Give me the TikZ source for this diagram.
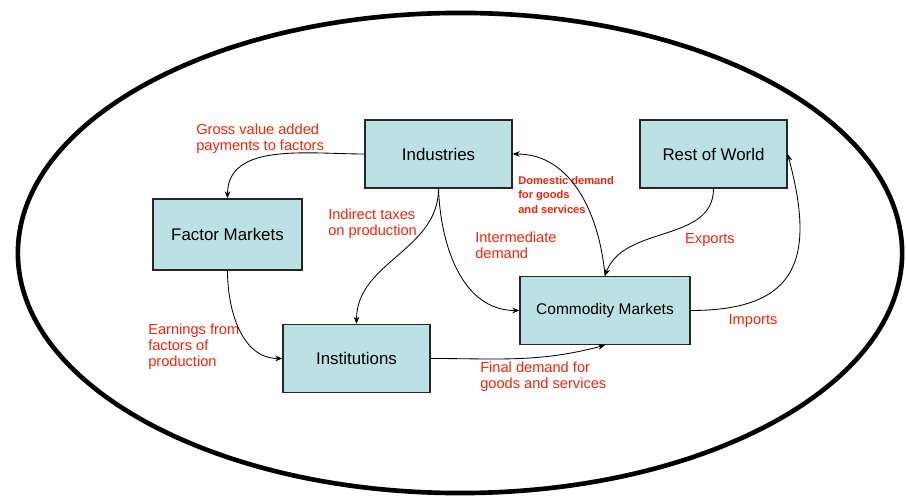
\documentclass[tikz,border=0pt]{standalone}
\usepackage{fontspec}
\setmainfont{Liberation Sans}
\usetikzlibrary{arrows.meta}

\definecolor{boxfill}{RGB}{188,225,228}
\definecolor{flowred}{RGB}{245,35,10}

\tikzset{
  sector/.style={draw=black!85, line width=0.9pt, fill=boxfill, minimum width=3.675cm, minimum height=1.7cm, font=\fontsize{12}{14}\selectfont},
  flow/.style={-{Stealth[length=5pt,width=4pt]}, line width=0.6pt},
  flowlabel/.style={text=flowred, font=\fontsize{10.4}{11.4}\selectfont, align=left, anchor=north west, inner sep=0pt}
}

\begin{document}
\begin{tikzpicture}[x=0.025cm, y=0.025cm]
\useasboundingbox (0,0) rectangle (906,499);

% Economy boundary
\draw[line width=3.3pt] (460,246) ellipse [x radius=11.05cm, y radius=6cm];

% Sectors
\node[sector] (ind) at (438.5,345) {Industries};
\node[sector] (row) at (713.5,345) {Rest of World};
\node[sector, minimum width=3.725cm, minimum height=1.775cm] (fac) at (227.5,264.5) {Factor Markets};
\node[sector] (inst) at (356.5,140.5) {Institutions};
\node[sector, minimum width=4.25cm, font=\fontsize{11}{13}\selectfont] (com) at (605,188.5) {Commodity Markets};

% Flow labels
\node[flowlabel] (gva) at (196,375) {Gross value added\\payments to factors};
\node[flowlabel] (tax) at (328,290) {Indirect taxes\\on production};
\node[flowlabel, font=\bfseries\fontsize{7.9}{10.3}\selectfont] (dom) at (518,323) {Domestic demand\\for goods\\and services};
\node[flowlabel] (mid) at (475,267) {Intermediate\\demand};
\node[flowlabel, anchor=center] (exp) at (710,259) {Exports};
\node[flowlabel, anchor=center] (imp) at (753,178) {Imports};
\node[flowlabel] (earn) at (148,175) {Earnings from\\factors of\\production};
\node[flowlabel] (fin) at (480,137) {Final demand for\\goods and services};

% Flows
\draw[flow] (ind.west) to[out=180, in=90] (fac.north);
\draw[flow] (fac.south) to[out=-90, in=180] (inst.west);
\draw[flow] (ind.south) to[out=-90, in=90] (inst.north);
\draw[flow] (ind.south) to[out=-88, in=180] (com.west);
\draw[flow] (com.north) to[out=95, in=0] (ind.east);
\draw[flow] (row.south) to[out=-90, in=70] (com.north);
\draw[flow] (com.east) to[out=0, in=-75, looseness=1.5] (row.east);
\draw[flow] (inst.east) to[out=0, in=195] (com.south);
\end{tikzpicture}
\end{document}
